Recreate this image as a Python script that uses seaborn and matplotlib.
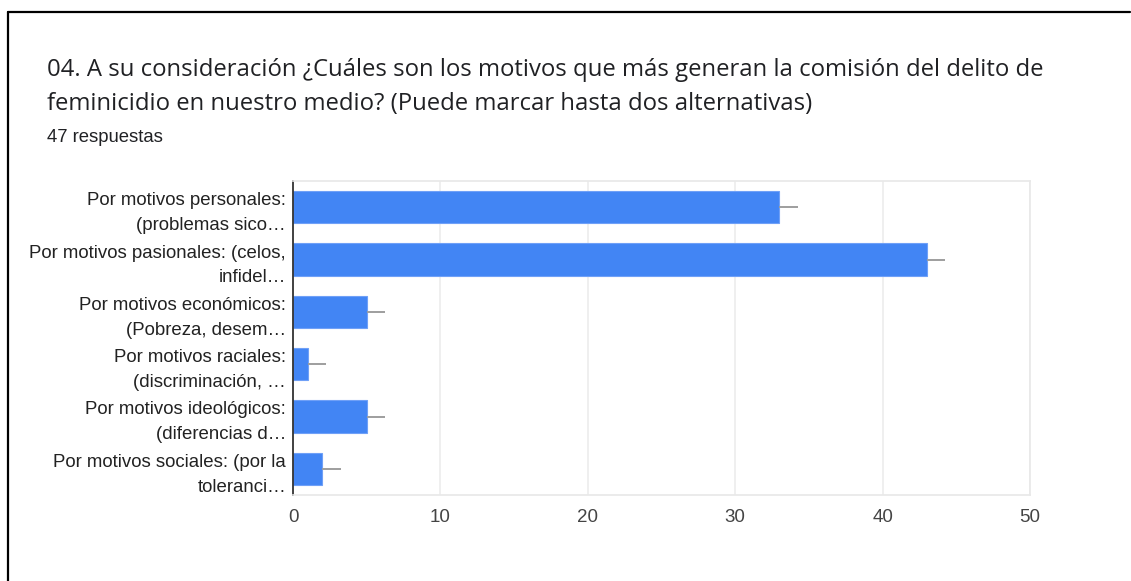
import matplotlib
matplotlib.use("Agg")
import matplotlib.pyplot as plt
import seaborn as sns
import pandas as pd
from matplotlib.lines import Line2D

categories = [
    "Por motivos personales:\n(problemas sico…",
    "Por motivos pasionales: (celos,\ninfidel…",
    "Por motivos económicos:\n(Pobreza, desem…",
    "Por motivos raciales:\n(discriminación, …",
    "Por motivos ideológicos:\n(diferencias d…",
    "Por motivos sociales: (por la\ntoleranci…",
]
values = [33, 43, 5, 1, 5, 2]
err_len = [1.25, 1.25, 1.25, 1.25, 1.25, 1.25]
xticks = [0, 10, 20, 30, 40, 50]

title_lines = ["04. A su consideración ¿Cuáles son los motivos que más generan la comisión del delito de",
               "feminicidio en nuestro medio? (Puede marcar hasta dos alternativas)"]
subtitle = "47 respuestas"

sns.set_theme(style="white")
plt.rcParams['font.family'] = ['Liberation Sans', 'DejaVu Sans']

fig = plt.figure(figsize=(11.31, 5.81), dpi=100)
ax = fig.add_axes([293/1131, 1-495/581, (1030-293)/1131, (495-181)/581])

df = pd.DataFrame({"cat": categories, "val": values})
sns.barplot(data=df, y="cat", x="val", orient="h", color="#4285f4",
            saturation=1, width=0.62, ax=ax, errorbar=None)
for p in ax.patches:
    p.set_edgecolor("#6fa0f7")
    p.set_linewidth(0.8)

ypos = list(range(len(values)))
ax.errorbar(values, ypos, xerr=[[0]*len(values), err_len], fmt="none",
            ecolor="#9e9e9e", elinewidth=1.4, capsize=0, zorder=3)

ax.set_xlim(0, 50)
ax.set_ylim(len(values)-0.5, -0.5)
ax.set_xticks(xticks)
ax.set_xticklabels([str(t) for t in xticks])
ax.set_xlabel("")
ax.set_ylabel("")
ax.grid(axis="x", color="#ececec", linewidth=1.2)
ax.set_axisbelow(True)
ax.tick_params(axis="x", length=0, pad=10, labelsize=13.5, labelcolor="#444444")
ax.tick_params(axis="y", length=0, pad=5, labelsize=13.4, labelcolor="#222222")
for lbl in ax.get_yticklabels():
    lbl.set_horizontalalignment("right")
    lbl.set_linespacing(1.6)
for s in ["top", "right", "bottom"]:
    ax.spines[s].set_color("#e8e8e8")
    ax.spines[s].set_linewidth(1.2)
ax.spines["left"].set_color("#333333")
ax.spines["left"].set_linewidth(1.3)

for line, ypx in zip(title_lines, [70, 104]):
    fig.text(47/1131, 1-ypx/581, line, ha="left", va="center", fontsize=17.2,
             color="#202124", family=["Open Sans", "DejaVu Sans"])
fig.text(47/1131, 1-137/581, subtitle, ha="left", va="center", fontsize=13.3,
         color="#202124")

# outer frame (top and left edges)
fig.add_artist(Line2D([8/1131, 1130/1131], [1-12/581, 1-12/581], transform=fig.transFigure,
                      color="black", linewidth=1.6))
fig.add_artist(Line2D([8/1131, 8/1131], [1-12/581, 0], transform=fig.transFigure,
                      color="black", linewidth=1.6))

fig.savefig("out.png", dpi=100, facecolor="white")
